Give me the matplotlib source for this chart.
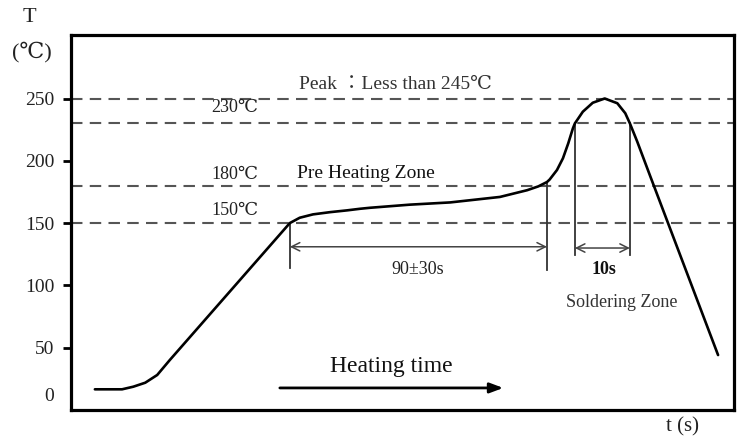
import matplotlib.pyplot as plt
import matplotlib.transforms as mtransforms
import numpy as np

plt.rcParams['font.family'] = ['Liberation Serif', 'DejaVu Serif', 'Noto Sans CJK JP']

# reflow profile, x in arbitrary time units (0-100), T in degC
time = [3.6, 7.7, 9.4, 11.2, 13.0, 14.9, 33.0, 34.5, 36.5, 39.1, 41.6, 43.6, 45.1, 51.1,
        57.2, 64.7, 68.8, 70.5, 71.8, 72.2, 73.3, 74.2, 75.0, 75.7, 76.0, 77.2, 78.7, 80.5,
        82.4, 83.6, 84.3, 85.4, 87.3, 97.6]
temp = [16.6, 16.6, 18.7, 21.9, 28.1, 40.1, 150, 154.3, 157.0, 158.8, 160.2, 161.5, 162.3, 164.8,
        166.6, 171.0, 176.4, 179.5, 183.0, 185.0, 192.6, 202.0, 214.0, 226.0, 230, 239.4, 246.6, 250,
        246.2, 238.2, 230, 215.5, 188.6, 44.1]

levels = [250, 230, 180, 150]
yticks = [0, 50, 100, 150, 200, 250]

preheat_start, preheat_end = 33.0, 71.8
solder_start, solder_end = 76.0, 84.3

fig = plt.figure(figsize=(7.42, 4.37), dpi=100)
ax = fig.add_axes([0.0957, 0.0618, 0.8935, 0.8582])
ax.set_xlim(0, 100)
ax.set_ylim(0, 301)

for lv in levels:
    ax.axhline(lv, color='#555555', lw=1.5, dashes=(5.5, 3.5), zorder=1)

ax.plot(time, temp, color='black', lw=1.9, solid_capstyle='round', solid_joinstyle='round', zorder=3)

# zone markers
ax.plot([preheat_start, preheat_start], [150, 114], color='#333333', lw=1.3)
ax.plot([preheat_end, preheat_end], [183, 112], color='#333333', lw=1.3)
ax.plot([solder_start, solder_start], [230, 124], color='#333333', lw=1.3)
ax.plot([solder_end, solder_end], [230, 124], color='#333333', lw=1.3)
ax.annotate('', xy=(preheat_end, 131), xytext=(preheat_start, 131),
            arrowprops=dict(arrowstyle='<->,head_length=0.6,head_width=0.3', color='#444444', lw=1.1,
                            shrinkA=0, shrinkB=0))
ax.annotate('', xy=(solder_end, 130), xytext=(solder_start, 130),
            arrowprops=dict(arrowstyle='<->,head_length=0.6,head_width=0.3', color='#444444', lw=1.1,
                            shrinkA=0, shrinkB=0))
ax.annotate('', xy=(65.2, 17.7), xytext=(31.5, 17.7),
            arrowprops=dict(arrowstyle='-|>,head_length=0.8,head_width=0.3', color='black', lw=2,
                            shrinkA=0, shrinkB=0))

# labels
ax.text(24.7, 243, '230℃', ha='center', va='center', fontsize=13, color='#222222')
ax.text(24.7, 189, '180℃', ha='center', va='center', fontsize=13, color='#222222')
ax.text(24.7, 160.5, '150℃', ha='center', va='center', fontsize=13, color='#222222')
ax.text(44.5, 190, 'Pre Heating Zone', ha='center', va='center', fontsize=14, color='#111111')
ax.text(48.9, 261.6, 'Peak ：Less than 245℃', ha='center', va='center', fontsize=14, color='#333333')
ax.text(52.3, 112.4, '90±30s', ha='center', va='center', fontsize=13, color='#222222')
ax.text(80.4, 112.4, '10s', ha='center', va='center', fontsize=13, color='#111111', fontweight='bold')
ax.text(83.0, 85.9, 'Soldering Zone', ha='center', va='center', fontsize=13, color='#333333')
ax.text(48.3, 35.3, 'Heating time', ha='center', va='center', fontsize=17, color='#111111')

fig.text(29 / 742, 1 - 17 / 437, 'T', ha='center', va='center', fontsize=16, color='#222222')
fig.text(32 / 742, 1 - 52 / 437, '(℃)', ha='center', va='center', fontsize=16, color='#222222')
fig.text(683 / 742, 1 - 427 / 437, 't (s)', ha='center', va='center', fontsize=15, color='#222222')

ax.set_xticks([])
ax.set_yticks(yticks)
ax.set_yticklabels([str(v) for v in yticks], fontsize=14, color='#222222')
ax.tick_params(axis='y', direction='out', length=6, width=2, pad=6, color='black')
zero_tick = ax.yaxis.get_major_ticks()[0]
zero_tick.tick1line.set_visible(False)
zero_tick.label1.set_transform(zero_tick.label1.get_transform() +
                               mtransforms.ScaledTranslation(0, 15 / 100, fig.dpi_scale_trans))

for side in ['left', 'bottom', 'top', 'right']:
    ax.spines[side].set_linewidth(2.3)
    ax.spines[side].set_color('black')

fig.savefig('out.png', dpi=100)
